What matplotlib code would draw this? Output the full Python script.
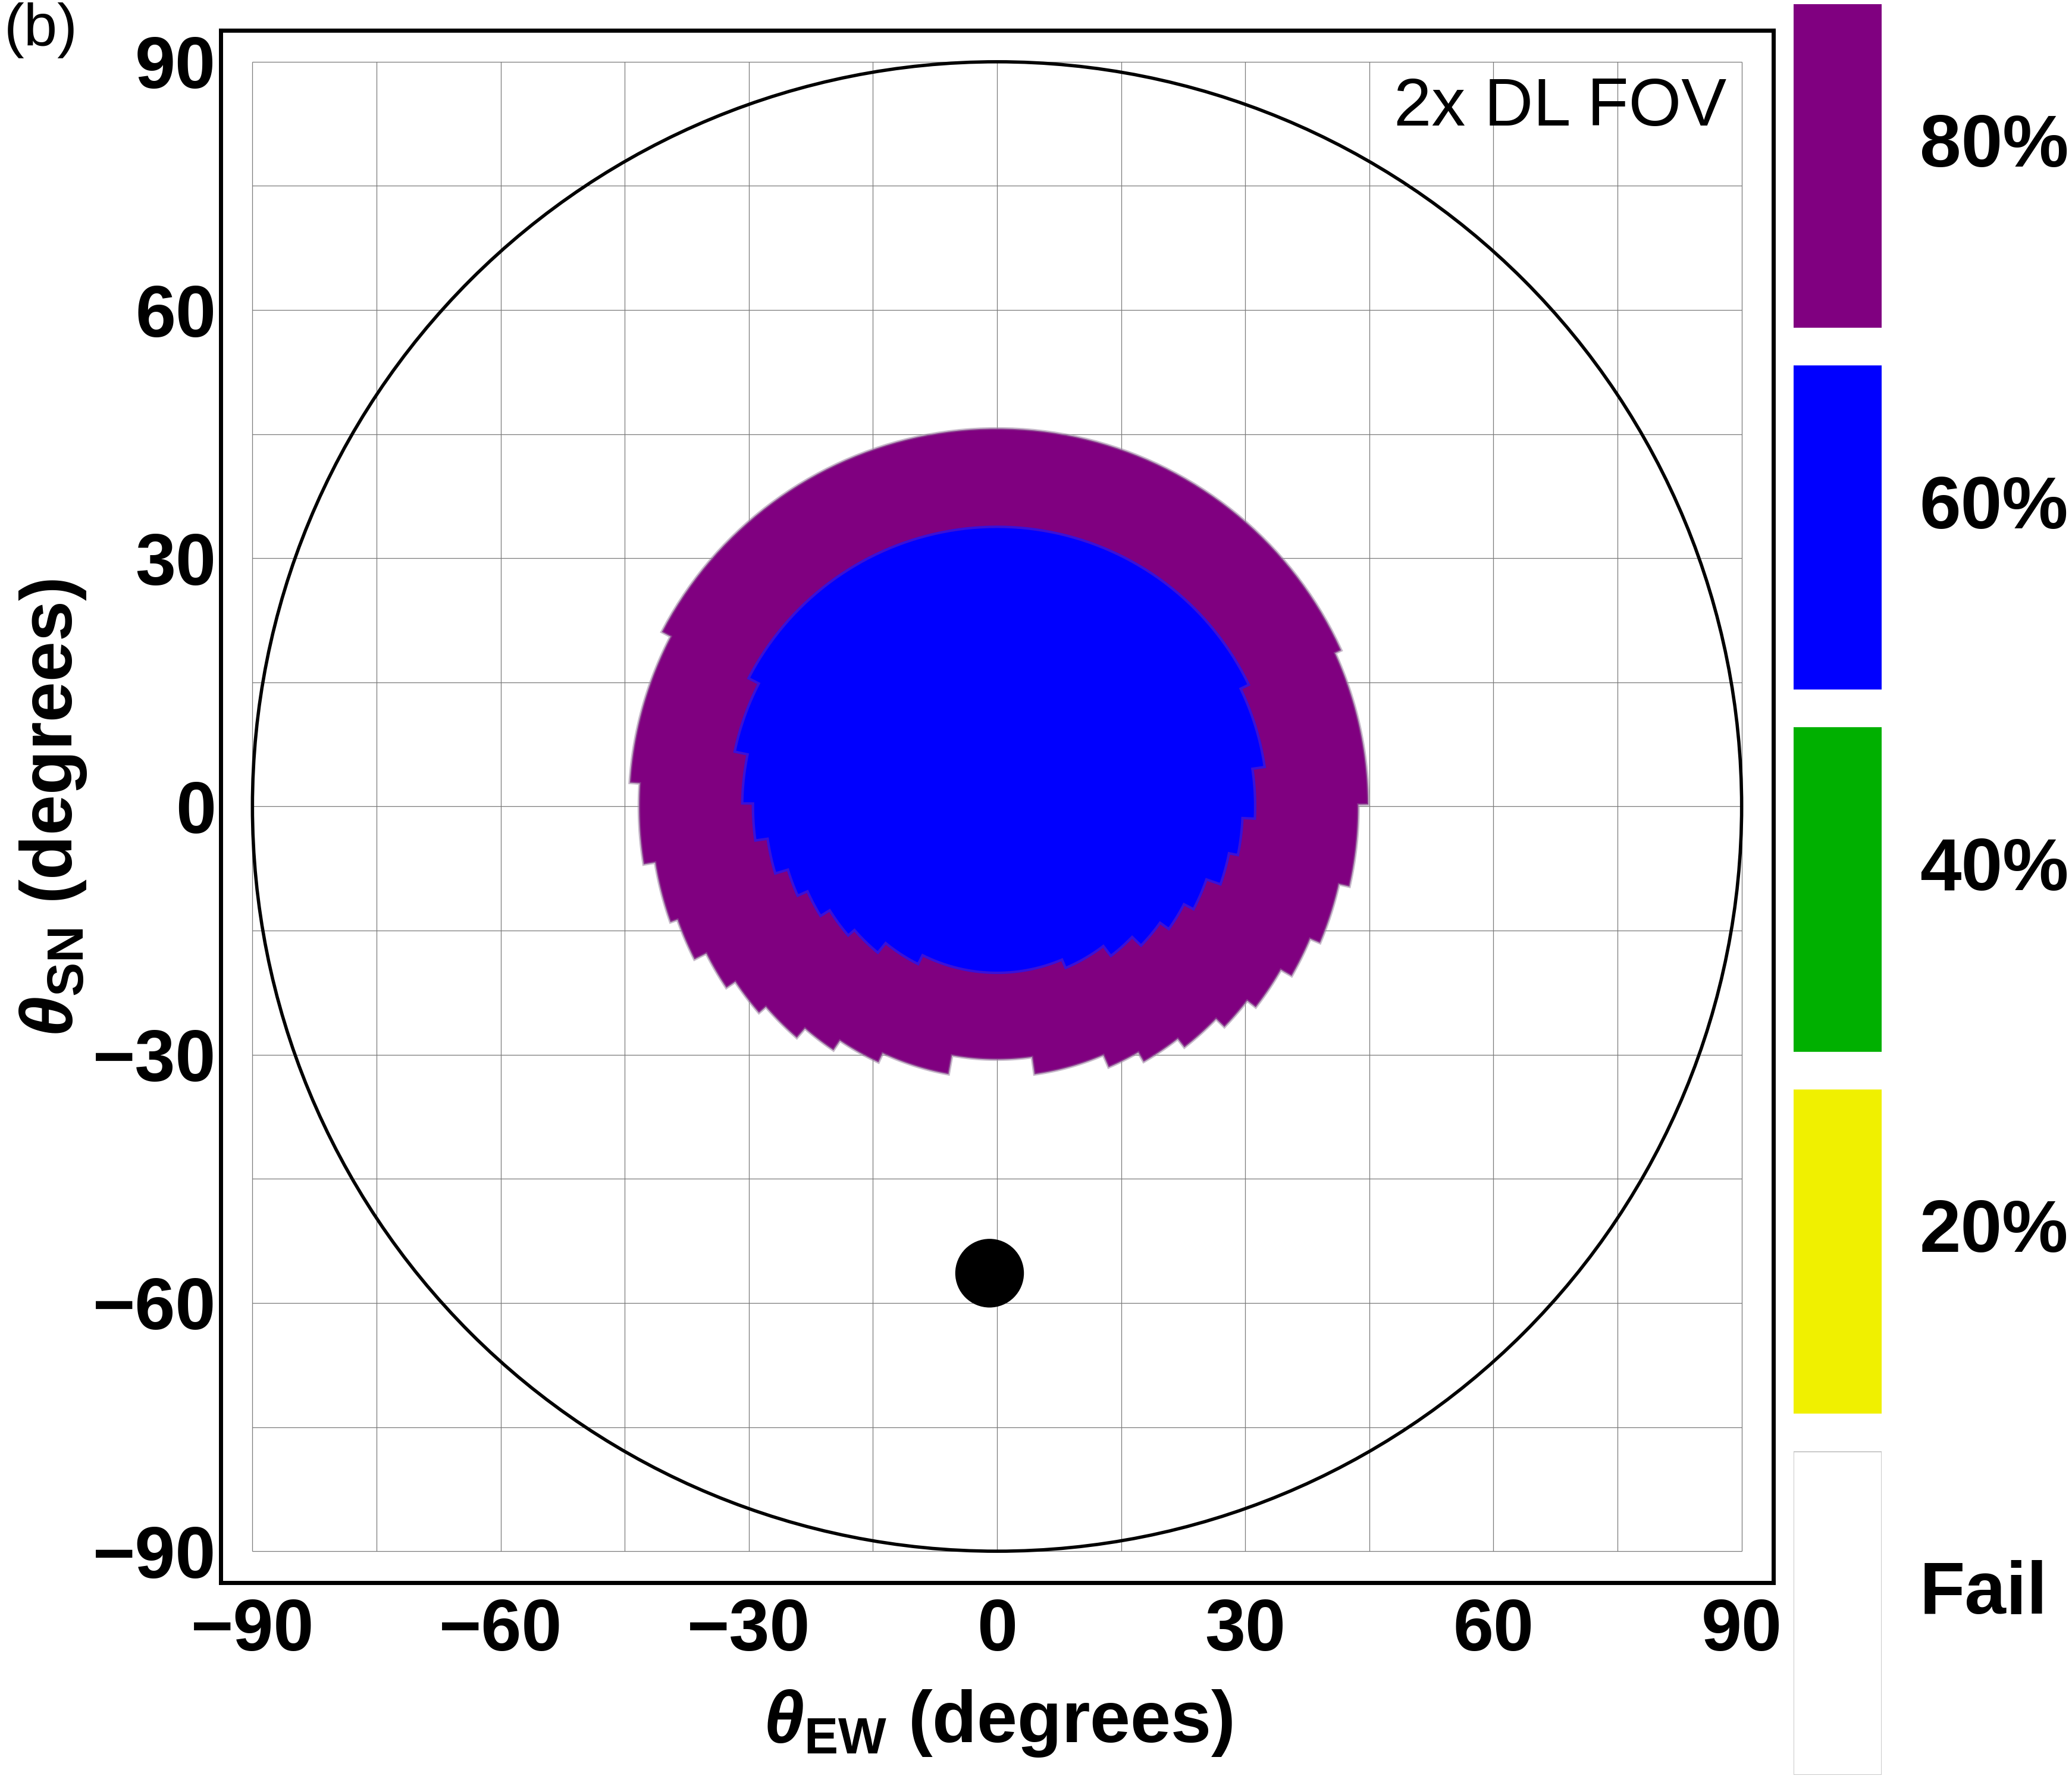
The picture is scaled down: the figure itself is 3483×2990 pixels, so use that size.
import numpy as np
import matplotlib
matplotlib.use("Agg")
import matplotlib.pyplot as plt
from matplotlib.patches import Circle, Polygon

plt.rcParams['font.family'] = ['Liberation Sans', 'DejaVu Sans']
plt.rcParams['mathtext.fontset'] = 'custom'
plt.rcParams['mathtext.rm'] = 'Liberation Sans:bold'
plt.rcParams['mathtext.bf'] = 'Liberation Sans:bold'
plt.rcParams['mathtext.it'] = 'Liberation Sans:italic:bold'

# 80% region: azimuth where each sector starts (deg, ccw from east) and its radius (deg)
purple_start = [0.4, 24.5, 152.4, 176.2, 189.2, 199.4, 206.7, 213.7, 220.8, 229.0, 236.0,
                245.0, 259.6, 278.1, 293.3, 300.0, 308.0, 316.0, 322.3, 330.2, 337.2, 347.3]
purple_r = [44.8, 45.6, 44.4, 43.2, 41.8, 40.9, 39.3, 38.0, 36.9, 35.4, 34.0,
            32.8, 30.5, 32.6, 34.2, 35.5, 36.8, 38.2, 39.5, 41.0, 42.3, 43.6]

# 60% region
blue_start = [357.3, 8.4, 25.8, 152.7, 168.2, 179.3, 188.0, 196.8, 204.1, 211.8,
              220.9, 230.8, 243.4, 293.0, 307.3, 316.0, 324.5, 332.4, 340.8, 348.6]
blue_r = [31.2, 32.7, 33.8, 32.4, 30.8, 29.5, 28.0, 26.4, 25.1, 23.8,
          22.8, 21.3, 20.1, 21.2, 22.7, 24.2, 25.5, 26.8, 28.6, 29.7]

# sun position and size (deg)
sun_x, sun_y, sun_r = -0.9, -56.4, 4.15
horizon_r = 90

ticks = [-90, -60, -30, 0, 30, 60, 90]
grid_vals = [-90, -75, -60, -45, -30, -15, 0, 15, 30, 45, 60, 75, 90]

levels = ['Fail', '20%', '40%', '60%', '80%']
level_colors = ['#ffffff', '#f0f000', '#00b000', '#0000ff', '#800080']


def sector_outline(starts, radii):
    xs, ys = [], []
    n = len(starts)
    for i in range(n):
        a0 = starts[i]
        a1 = starts[(i + 1) % n]
        if a1 <= a0:
            a1 += 360
        a = np.radians(np.linspace(a0, a1, 80))
        xs.extend(radii[i] * np.cos(a))
        ys.extend(radii[i] * np.sin(a))
    return np.column_stack([xs, ys])


fig = plt.figure(figsize=(34.83, 29.90), dpi=100)
ax = fig.add_axes([0.10652, 0.11037, 0.74935, 0.87258])
lim = 93.8
ax.set_xlim(-lim, lim)
ax.set_ylim(-lim, lim)
ax.set_aspect('equal')

ax.vlines(grid_vals, -90, 90, color='#7a7a7a', lw=0.9, zorder=1)
ax.hlines(grid_vals, -90, 90, color='#7a7a7a', lw=0.9, zorder=1)

# soft rim, then the filled regions
purple_xy = sector_outline(purple_start, purple_r)
blue_xy = sector_outline(blue_start, blue_r)
ax.add_patch(Polygon(purple_xy, closed=True, facecolor='none',
                     edgecolor='#a08aa6', lw=5, alpha=0.6, zorder=2))
ax.add_patch(Polygon(purple_xy, closed=True, facecolor='#800080',
                     edgecolor='#8a3a8e', lw=1.5, zorder=2))
ax.add_patch(Polygon(blue_xy, closed=True, facecolor='#0000ff',
                     edgecolor='#3a10d8', lw=3, zorder=3))

ax.add_patch(Circle((0, 0), horizon_r, fill=False, edgecolor='black', lw=4, zorder=4))
ax.add_patch(Circle((sun_x, sun_y), sun_r, facecolor='black', edgecolor='none', zorder=5))

for s in ax.spines.values():
    s.set_linewidth(5)

tick_labels = [str(t).replace('-', '\u2212') for t in ticks]
ax.set_xticks(ticks, labels=tick_labels, fontsize=88, fontweight='bold')
ax.set_yticks(ticks, labels=tick_labels, fontsize=88, fontweight='bold')
ax.tick_params(axis='x', length=0, pad=18)
ax.tick_params(axis='y', length=0, pad=6)

ax.text(88.2, 82.3, '2x DL FOV', ha='right', va='baseline', fontsize=82, zorder=6)

fig.text(1678 / 3483, 1 - 2897 / 2990, r'$\theta_{\mathrm{EW}}$ (degrees)',
         ha='center', va='center', fontsize=88, fontweight='bold')
fig.text(90 / 3483, 1 - 1358 / 2990, r'$\theta_{\mathrm{SN}}$ (degrees)',
         ha='center', va='center', fontsize=88, fontweight='bold', rotation=90)

fig.text(7 / 3483, 1 - 4 / 2990, '(b)', ha='left', va='top', fontsize=73)

# discrete colour key
cax = fig.add_axes([3014.6 / 3483, 1 - 2983 / 2990, 148.4 / 3483, 2976 / 2990])
bar_h = 543 / 608
cax.set_xlim(0, 1)
cax.set_ylim(0, 4 + bar_h)
for i, (lab, col) in enumerate(zip(levels, level_colors)):
    edge = '#c0c0c0' if col == '#ffffff' else col
    cax.bar(0.5, bar_h, width=1, bottom=i, color=col, edgecolor=edge, lw=1.2)
    cax.text(1.43, i + bar_h / 2 + 31 / 608, lab, ha='left', va='center',
             fontsize=90, fontweight='bold', clip_on=False)
cax.axis('off')

fig.savefig('out.png', dpi=100)
